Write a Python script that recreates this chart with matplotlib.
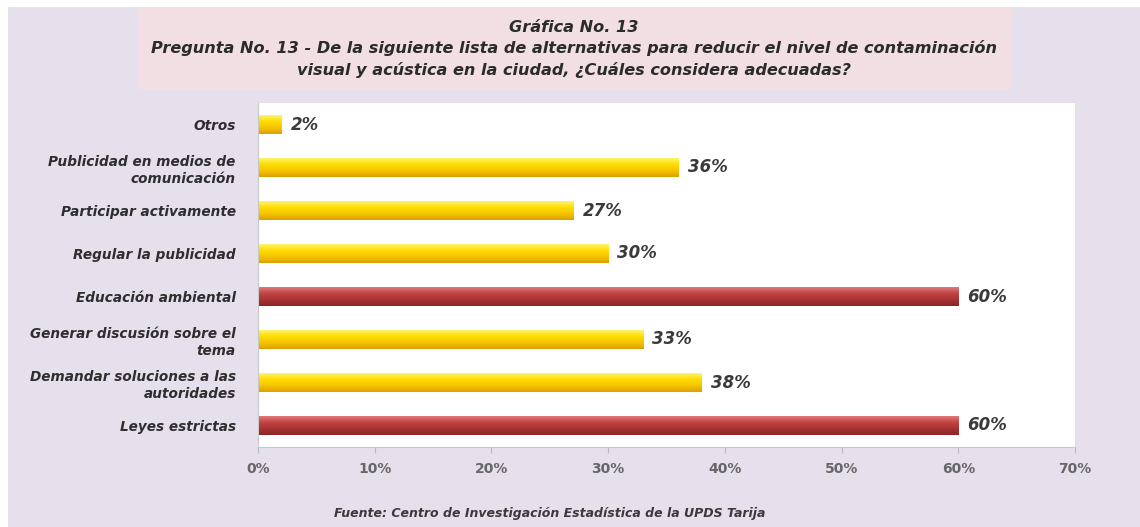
import numpy as np
import matplotlib
matplotlib.use("Agg")
import matplotlib.pyplot as plt
from matplotlib.colors import LinearSegmentedColormap
from matplotlib.patches import Rectangle

# Survey answers (top to bottom as shown)
categorias = [
    "Otros",
    "Publicidad en medios de\ncomunicación",
    "Participar activamente",
    "Regular la publicidad",
    "Educación ambiental",
    "Generar discusión sobre el\ntema",
    "Demandar soluciones a las\nautoridades",
    "Leyes estrictas",
]
porcentajes = [2, 36, 27, 30, 60, 33, 38, 60]
destacadas = [False, False, False, False, True, False, False, True]

ticks = [0, 10, 20, 30, 40, 50, 60, 70]
tick_labels = ["0%", "10%", "20%", "30%", "40%", "50%", "60%", "70%"]

fondo = "#e5e0ec"
amarillo = LinearSegmentedColormap.from_list("amarillo", ["#fff46a", "#ffdc00", "#f5c400", "#dca000"])
rojo = LinearSegmentedColormap.from_list("rojo", ["#e07a7a", "#c04444", "#a83232", "#8a2626"])

fig = plt.figure(figsize=(11.4, 5.27), dpi=100, facecolor="white")
# lavender panel with thin white margin
fig.patches.append(Rectangle((8 / 1140, 0), 1 - 8 / 1140, 1 - 7 / 527,
                             transform=fig.transFigure, facecolor=fondo,
                             edgecolor="none", zorder=-2))
# pink box behind the title
fig.patches.append(Rectangle((137 / 1140, 1 - 90 / 527), (1012 - 137) / 1140, 82 / 527,
                             transform=fig.transFigure, facecolor="#f1dfe4",
                             edgecolor="none", zorder=-1))

ax = fig.add_axes([258 / 1140, 1 - 447 / 527, 817 / 1140, 344 / 527])
ax.set_facecolor("white")

y = np.arange(len(categorias))
barras = ax.barh(y, porcentajes, height=0.42, color="none", edgecolor="none", zorder=2)

grad = np.linspace(0, 1, 64).reshape(-1, 1)
for barra, valor, dest in zip(barras, porcentajes, destacadas):
    x0, y0 = barra.get_x(), barra.get_y()
    w, h = barra.get_width(), barra.get_height()
    cmap = rojo if dest else amarillo
    ax.imshow(grad, cmap=cmap, aspect="auto", extent=(x0, x0 + w, y0 + h, y0),
              origin="upper", zorder=2)
    ax.text(valor + 0.8, y0 + h / 2, f"{valor}%", va="center", ha="left",
            fontsize=12, fontweight="bold", fontstyle="italic",
            color="#3a3a3a", family="DejaVu Sans", zorder=3)

ax.set_xlim(0, 70)
ax.set_ylim(len(categorias) - 0.5, -0.5)
ax.set_xticks(ticks)
ax.set_xticklabels(tick_labels, fontsize=10, fontweight="bold", color="#666666",
                   family="DejaVu Sans")
ax.set_yticks(y)
ax.set_yticklabels(categorias, fontsize=9.8, fontweight="bold", fontstyle="italic",
                   color="#2e2e2e", family="DejaVu Sans", linespacing=1.3)
ax.tick_params(axis="y", length=0, pad=16)
ax.tick_params(axis="x", length=4, color="#bbbbbb", pad=7)
for lado in ["top", "right"]:
    ax.spines[lado].set_visible(False)
ax.spines["left"].set_color("#c8c8c8")
ax.spines["bottom"].set_color("#c8c8c8")

titulo = dict(ha="center", va="center", fontweight="bold", fontstyle="italic",
              color="#2b2b2b", family="DejaVu Sans")
fig.text(574 / 1140, 1 - 27 / 527, "Gráfica No. 13", fontsize=11.6, **titulo)
fig.text(574 / 1140, 1 - 48 / 527,
         "Pregunta No. 13 - De la siguiente lista de alternativas para reducir el nivel de contaminación",
         fontsize=11.6, **titulo)
fig.text(574 / 1140, 1 - 70 / 527,
         "visual y acústica en la ciudad, ¿Cuáles considera adecuadas?",
         fontsize=11.6, **titulo)

fig.text(550 / 1140, 1 - 513 / 527,
         "Fuente: Centro de Investigación Estadística de la UPDS Tarija",
         ha="center", va="center", fontsize=9, fontweight="bold", fontstyle="italic",
         color="#3a3a3a", family="DejaVu Sans")

fig.savefig("out.png", dpi=100, facecolor=fig.get_facecolor())
